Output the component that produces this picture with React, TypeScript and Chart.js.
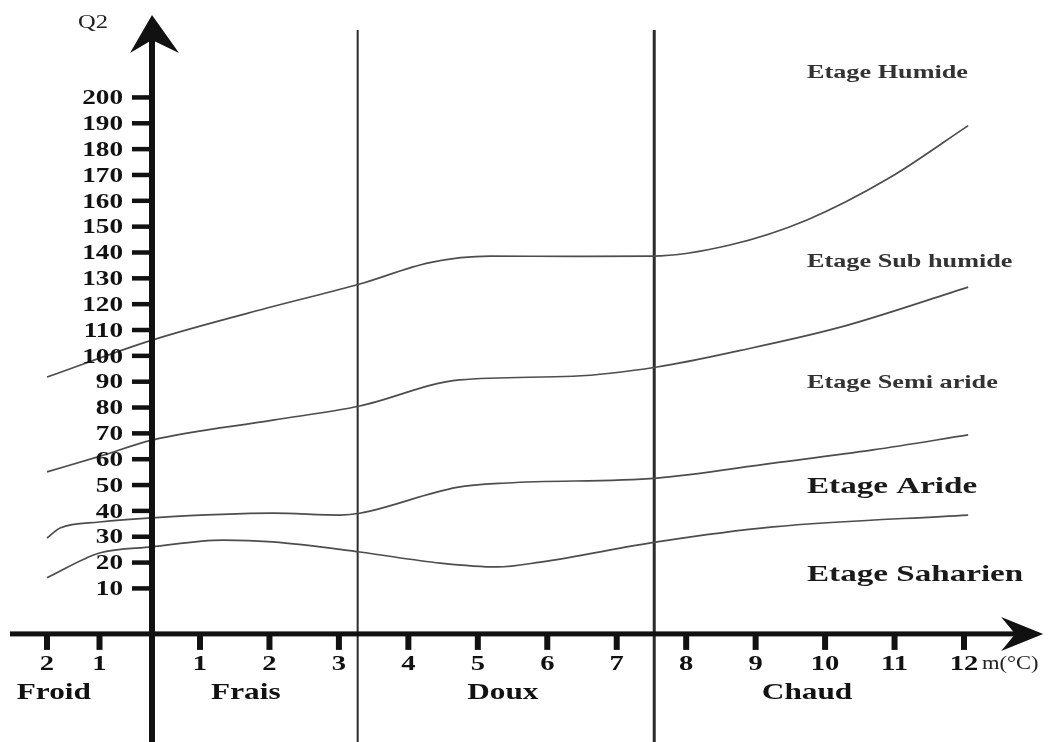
import React, { useEffect, useRef } from 'react';
import { Chart, registerables, LinearScale } from 'chart.js';

Chart.register(...registerables);

// ---------- data ----------
// m (°C) -> Q2 boundary curves of the Emberger climagram
const CURVE_HUMIDE: [number, number][] = [
  [-2, 91.7], [0, 106], [2.05, 119], [3.3, 127.7], [4.31, 136], [5.18, 138.5],
  [6.37, 138.4], [7.52, 138.5], [8.63, 142.8], [9.74, 152.5], [10.94, 169], [12.06, 189],
];
const CURVE_SUBHUMIDE: [number, number][] = [
  [-2, 55], [-1, 61], [0, 67.3], [2.05, 75], [3.3, 80.5], [4.74, 90.6], [6.37, 92],
  [7.58, 95.6], [8.78, 102], [10.22, 111], [12.06, 126.5],
];
const CURVE_SEMIARIDE: [number, number][] = [
  [-2, 29.4], [-1.75, 33.3], [-1, 35.6], [0, 37.2], [2.05, 39], [3.02, 38.3], [3.3, 39],
  [4.7, 49], [5.42, 50.7], [7.58, 52.6], [9.25, 58.4], [10.69, 63.5], [12.06, 69.3],
];
const CURVE_ARIDE: [number, number][] = [
  [-2, 14], [-1, 23.6], [0, 26], [1.33, 28.6], [2.05, 27.9], [3.3, 24], [4.46, 19.7],
  [5.28, 18.2], [5.9, 20.1], [7.58, 27.9], [9.25, 33.7], [12.06, 38.3],
];
const CURVES = [CURVE_HUMIDE, CURVE_SUBHUMIDE, CURVE_SEMIARIDE, CURVE_ARIDE];

// vertical boundaries between thermal zones (m °C)
const ZONE_BOUNDS = [3.27, 7.54];
const ZONE_NAMES = ['Froid', 'Frais', 'Doux', 'Chaud'];
const ZONE_LABEL_M = [-1.87, 1.66, 5.36, 9.74];

const Y_TICKS = [10, 20, 30, 40, 50, 60, 70, 80, 90, 100, 110, 120, 130, 140, 150, 160, 170, 180, 190, 200];
const X_TICKS = [-2, -1, 1, 2, 3, 4, 5, 6, 7, 8, 9, 10, 11, 12];

const ETAGE_NAMES = ['Etage Humide', 'Etage Sub humide', 'Etage Semi aride', 'Etage Aride', 'Etage Saharien'];
const ETAGE_Q2 = [207.4, 134.3, 87.5, 46.8, 12.8];

// ---------- scale: the hand-drawn m axis is unevenly spaced ----------
// piecewise-linear calibration of the drawn axis (knot value -> relative length)
const KNOT_M = [-2, 0, 1, 12];
const KNOT_W = [-105, 0, 48, 812];

function warp(v: number) {
  const n = KNOT_M.length;
  let i = 0;
  if (v >= KNOT_M[n - 1]) i = n - 2;
  else if (v > KNOT_M[0]) { while (v > KNOT_M[i + 1]) i++; }
  const t = (v - KNOT_M[i]) / (KNOT_M[i + 1] - KNOT_M[i]);
  return KNOT_W[i] + t * (KNOT_W[i + 1] - KNOT_W[i]);
}
function unwarp(w: number) {
  const n = KNOT_W.length;
  let i = 0;
  if (w >= KNOT_W[n - 1]) i = n - 2;
  else if (w > KNOT_W[0]) { while (w > KNOT_W[i + 1]) i++; }
  const t = (w - KNOT_W[i]) / (KNOT_W[i + 1] - KNOT_W[i]);
  return KNOT_M[i] + t * (KNOT_M[i + 1] - KNOT_M[i]);
}

class WarpScale extends LinearScale {
  static id = 'warp';
  static defaults = LinearScale.defaults;
  getPixelForValue(value: any) {
    if (value === null || value === undefined) return NaN;
    const a = warp(this.min);
    const b = warp(this.max);
    return this.getPixelForDecimal((warp(value) - a) / (b - a));
  }
  getValueForPixel(pixel: number) {
    const a = warp(this.min);
    const b = warp(this.max);
    return unwarp(a + this.getDecimalForPixel(pixel) * (b - a));
  }
}
Chart.register(WarpScale as any);

const W = 1062;
const H = 742;
const X_MIN = unwarp(-152);
const X_MAX = unwarp(W - 152);
const Y_MAX = 614 / 2.584;
const Y_MIN = -(H - 614) / 2.584;

const SERIF = '"Liberation Serif", "Times New Roman", serif';
const SX = 1.36;

function drawText(
  ctx: CanvasRenderingContext2D, s: string, x: number, y: number,
  font: string, align: CanvasTextAlign, color: string, sx = SX,
) {
  ctx.save();
  ctx.translate(x, y);
  ctx.scale(sx, 1);
  ctx.font = font;
  ctx.textAlign = align;
  ctx.textBaseline = 'alphabetic';
  ctx.fillStyle = color;
  ctx.fillText(s, 0, 0);
  ctx.restore();
}

const axesPlugin = {
  id: 'climagramAxes',
  afterDatasetsDraw(chart: any) {
    const ctx: CanvasRenderingContext2D = chart.ctx;
    const xs = chart.scales.x;
    const ys = chart.scales.y;
    const px = (m: number) => xs.getPixelForValue(m);
    const py = (q: number) => ys.getPixelForValue(q);
    const ink = '#111';
    ctx.save();

    // y axis
    const x0 = px(0);
    const yTip = py(231.8);
    ctx.fillStyle = ink;
    ctx.fillRect(x0 - 3, yTip + 22, 6, H - yTip);
    ctx.beginPath();
    ctx.moveTo(x0, yTip);
    ctx.lineTo(x0 + 27, yTip + 38);
    ctx.lineTo(x0, yTip + 25);
    ctx.lineTo(x0 - 22, yTip + 38);
    ctx.closePath();
    ctx.fill();

    // y ticks + labels
    Y_TICKS.forEach((v) => {
      const y = py(v);
      ctx.fillStyle = ink;
      ctx.fillRect(x0 - 20, y - 2, 18, 4.5);
      drawText(ctx, String(v), x0 - 29, y + 7, `bold 20px ${SERIF}`, 'right', ink);
    });

    // x axis
    const yAx = py(-7.7);
    const xStart = px(-2.705);
    const xTip = px(13.14);
    ctx.fillStyle = ink;
    ctx.fillRect(xStart, yAx - 2.5, xTip - xStart - 20, 5);
    ctx.beginPath();
    ctx.moveTo(xTip, yAx);
    ctx.lineTo(xTip - 42, yAx - 17);
    ctx.lineTo(xTip - 28, yAx);
    ctx.lineTo(xTip - 42, yAx + 17);
    ctx.closePath();
    ctx.fill();

    // x ticks + labels
    X_TICKS.forEach((m) => {
      const x = px(m);
      ctx.fillStyle = ink;
      ctx.fillRect(x - 3, yAx, 6, 16);
      drawText(ctx, String(Math.abs(m)), x, yAx + 36, `bold 21px ${SERIF}`, 'center', ink);
    });

    // zone names
    ZONE_NAMES.forEach((name, i) => {
      drawText(ctx, name, px(ZONE_LABEL_M[i]), yAx + 65, `bold 23px ${SERIF}`, 'center', ink);
    });

    // stage names
    ETAGE_NAMES.forEach((name, i) => {
      const big = i >= 3;
      drawText(
        ctx, name, px(9.74), py(ETAGE_Q2[i]),
        `bold ${big ? 24 : 19}px ${SERIF}`, 'left', big ? '#1a1a1a' : '#333', 1.38,
      );
    });

    // axis titles
    drawText(ctx, 'Q2', px(-1.41), py(226.8), `18px ${SERIF}`, 'left', '#222');
    drawText(ctx, 'm(°C)', px(12.26), py(-21.3), `18px ${SERIF}`, 'left', '#222', 1.25);

    ctx.restore();
  },
};

export default function App() {
  const ref = useRef<HTMLCanvasElement | null>(null);

  useEffect(() => {
    document.body.style.margin = '0';
    if (!ref.current) return;
    const curveSets = CURVES.map((c) => ({
      data: c.map(([x, y]) => ({ x, y })),
      borderColor: '#4d4d4d',
      borderWidth: 1.7,
      pointRadius: 0,
      fill: false,
      cubicInterpolationMode: 'monotone' as const,
    }));
    const boundSets = ZONE_BOUNDS.map((m, i) => ({
      data: [{ x: m, y: Y_MIN }, { x: m, y: 226 }],
      borderColor: '#2b2b2b',
      borderWidth: i === 0 ? 2 : 3,
      pointRadius: 0,
      fill: false,
    }));
    const chart = new Chart(ref.current, {
      type: 'line',
      data: { datasets: [...curveSets, ...boundSets] as any },
      options: {
        animation: false,
        responsive: true,
        maintainAspectRatio: false,
        layout: { padding: 0 },
        plugins: { legend: { display: false }, tooltip: { enabled: false } },
        scales: {
          x: { type: 'warp' as any, min: X_MIN, max: X_MAX, display: false },
          y: { type: 'linear', min: Y_MIN, max: Y_MAX, display: false },
        },
      },
      plugins: [axesPlugin],
    });
    return () => chart.destroy();
  }, []);

  return (
    <div style={{ width: W, height: H, position: 'relative' }}>
      <canvas ref={ref} />
    </div>
  );
}
